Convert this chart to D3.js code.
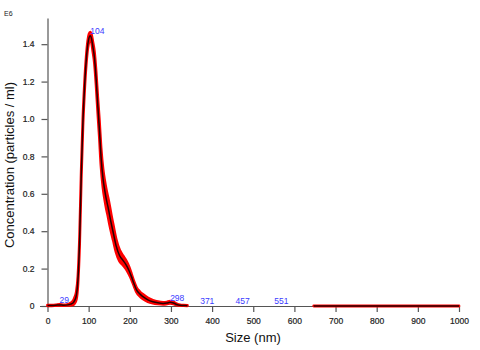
<!DOCTYPE html>
<html>
<head>
<meta charset="utf-8">
<script src="https://cdn.jsdelivr.net/npm/d3@7"></script>
<style>
  html, body { margin: 0; padding: 0; background: #fff; }
  svg { display: block; font-family: "Liberation Sans", Arial, sans-serif; }
</style>
</head>
<body>
<svg id="chart" width="480" height="350"></svg>
<script>
// Particle size distribution (mean concentration, E6 particles/ml) with standard error
const sizes = [0, 10, 20, 29, 40, 50, 56, 62, 66, 70, 74, 78, 82, 86, 90, 94, 98, 101, 104,
  107, 110, 114, 118, 122, 126, 130, 135, 139, 143, 147, 151, 155, 160, 167, 175, 183, 191,
  198, 204, 210, 216, 224, 232, 244, 256, 268, 281, 290, 298, 306, 314, 322, 330, 340,
  500, 647, 700, 800, 900, 1000];
const concentration = [0.003, 0.003, 0.004, 0.006, 0.004, 0.006, 0.010, 0.016, 0.030, 0.055,
  0.14, 0.35, 0.70, 0.98, 1.17, 1.31, 1.40, 1.435, 1.445, 1.43, 1.39, 1.33, 1.22, 1.08, 0.95,
  0.80, 0.68, 0.62, 0.57, 0.53, 0.485, 0.44, 0.39, 0.32, 0.27, 0.245, 0.22, 0.19, 0.157, 0.12,
  0.088, 0.065, 0.05, 0.033, 0.023, 0.017, 0.014, 0.016, 0.02, 0.016, 0.008, 0.004, 0.003,
  0.002, null, 0, 0, 0, 0, 0];
const stdError = [0.002, 0.002, 0.002, 0.003, 0.002, 0.003, 0.006, 0.010, 0.015, 0.02, 0.02,
  0.02, 0.02, 0.02, 0.02, 0.02, 0.02, 0.02, 0.02, 0.02, 0.025, 0.03, 0.035, 0.04, 0.045, 0.05,
  0.05, 0.05, 0.05, 0.05, 0.05, 0.045, 0.04, 0.035, 0.03, 0.025, 0.022, 0.02, 0.015, 0.012,
  0.012, 0.012, 0.012, 0.01, 0.008, 0.006, 0.005, 0.005, 0.006, 0.005, 0.004, 0.002, 0.001,
  0.001, null, 0, 0, 0, 0, 0];

// Labelled modes
const peakSizes = [29, 104, 298, 371, 457, 551];
const peakValues = [0.006, 1.445, 0.02, 0.002, 0.001, 0.001];

const xTicks = [0, 100, 200, 300, 400, 500, 600, 700, 800, 900, 1000];
const yTicks = [0, 0.2, 0.4, 0.6, 0.8, 1.0, 1.2, 1.4];
const yTickLabels = ["0", "0.2", "0.4", "0.6", "0.8", "1.0", "1.2", "1.4"];

const svg = d3.select("#chart");
const x = d3.scaleLinear().domain([0, 1000]).range([47.5, 459]);
const y = d3.scaleLinear().domain([0, 1.54]).range([306, 18]);

const points = sizes.map((s, i) => ({
  size: s, value: concentration[i], err: stdError[i]
}));
const ok = d => d.value !== null;

// Axes
const axisColor = "#555";
const xAxis = svg.append("g")
  .attr("transform", "translate(0,306)")
  .call(d3.axisBottom(x).tickValues(xTicks).tickSize(6).tickSizeOuter(0).tickFormat(d3.format("d")));
xAxis.select(".domain").attr("d", `M40,0.5H${x(1000)}`);

const yAxis = svg.append("g")
  .attr("transform", "translate(47.5,0)")
  .call(d3.axisLeft(y).tickValues(yTicks).tickSize(6).tickSizeOuter(0)
    .tickFormat((d, i) => yTickLabels[i]));

[xAxis, yAxis].forEach(g => {
  g.select(".domain").attr("stroke", axisColor).attr("stroke-width", 1.2);
  g.selectAll(".tick line").attr("stroke", axisColor).attr("stroke-width", 1.2);
  g.selectAll(".tick text")
    .attr("fill", "#222")
    .attr("font-size", 8.5)
    .attr("stroke", "#222")
    .attr("stroke-width", 0.2)
    .attr("font-family", "Liberation Sans, Arial, sans-serif");
});
xAxis.selectAll(".tick text").attr("dy", "0.95em").attr("y", 10);
yAxis.selectAll(".tick text").attr("x", -13);

// Standard-error band
const band = d3.area()
  .defined(ok)
  .x(d => x(d.size))
  .y0(d => y(Math.max(0, d.value - d.err)))
  .y1(d => y(d.value + d.err))
  .curve(d3.curveMonotoneX);

svg.append("path")
  .datum(points)
  .attr("d", band)
  .attr("fill", "#ff0000")
  .attr("stroke", "#ff0000")
  .attr("stroke-width", 2.8)
  .attr("stroke-linejoin", "round");

// Mean concentration line
const line = d3.line()
  .defined(ok)
  .x(d => x(d.size))
  .y(d => y(d.value))
  .curve(d3.curveMonotoneX);

svg.append("path")
  .datum(points)
  .attr("d", line)
  .attr("fill", "none")
  .attr("stroke", "#000")
  .attr("stroke-width", 1.5)
  .attr("stroke-opacity", 0.85)
  .attr("stroke-linejoin", "round");

// Mode labels
svg.append("g").selectAll("text")
  .data(peakSizes)
  .join("text")
  .attr("x", d => x(d))
  .attr("y", (d, i) => y(peakValues[i]) - 1.5)
  .attr("fill", "#3a3aff")
  .attr("font-size", 8.5)
  .text(d => d);

// Titles
svg.append("text")
  .attr("x", 4).attr("y", 16)
  .attr("font-size", 7)
  .attr("fill", "#222")
  .text("E6");

svg.append("text")
  .attr("transform", "translate(14,165) rotate(-90)")
  .attr("text-anchor", "middle")
  .attr("font-size", 13)
  .attr("fill", "#111")
  .text("Concentration (particles / ml)");

svg.append("text")
  .attr("x", 253).attr("y", 342)
  .attr("text-anchor", "middle")
  .attr("font-size", 13)
  .attr("fill", "#111")
  .text("Size (nm)");
</script>
</body>
</html>
